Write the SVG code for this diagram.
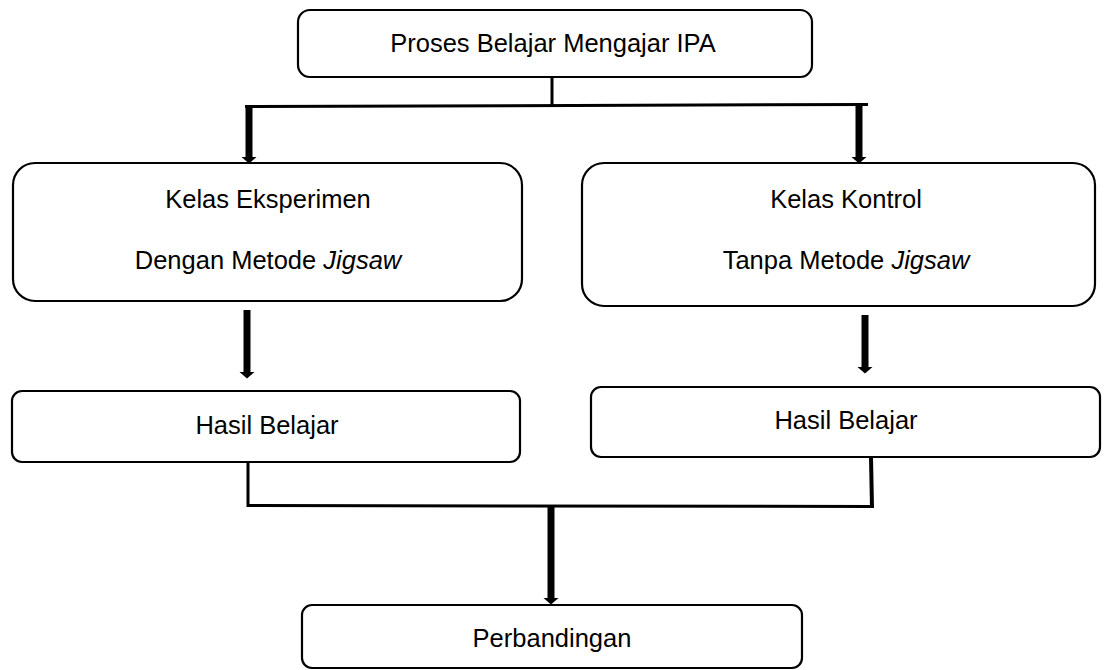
<svg xmlns="http://www.w3.org/2000/svg" width="1106" height="670" viewBox="0 0 1106 670">
<style>
.box{fill:#fff;stroke:#000;stroke-width:2.2}
.t{font-family:"Liberation Sans",Arial,sans-serif;font-size:25.5px;fill:#000;text-anchor:middle}
.ln{fill:none;stroke:#000;stroke-width:3}
.sh{fill:none;stroke:#000;stroke-width:7}
</style>
<defs>
<marker id="ah" markerUnits="userSpaceOnUse" markerWidth="8" markerHeight="16" refX="0" refY="8" orient="auto">
<path d="M0,0.5 L6.5,8 L0,15.5 Z" fill="#000"/>
</marker>
</defs>
<rect width="1106" height="670" fill="#fff"/>
<g id="connectors">
<path class="ln" d="M552,77 V106"/>
<path class="ln" d="M245,106.5 L868,104.5"/>
<path class="sh" d="M249,106 V157" marker-end="url(#ah)"/>
<path class="sh" d="M859,105 V157" marker-end="url(#ah)"/>
<path class="sh" d="M247,310 V372" marker-end="url(#ah)"/>
<path class="sh" d="M865,315 V367" marker-end="url(#ah)"/>
<path class="ln" d="M248,462 V505.5 L872,506.5"/>
<path d="M871,457 L872,508" stroke="#000" stroke-width="4" fill="none"/>
<path class="sh" d="M551,506 V598" marker-end="url(#ah)"/>
</g>
<g id="n1">
<rect class="box" x="298" y="10" width="514" height="67" rx="12"/>
<text class="t" x="553" y="52">Proses Belajar Mengajar IPA</text>
</g>
<g id="n2">
<rect class="box" x="13" y="163" width="509" height="138" rx="22"/>
<text class="t" x="268" y="208">Kelas Eksperimen</text>
<text class="t" x="268" y="269">Dengan Metode <tspan font-style="italic">Jigsaw</tspan></text>
</g>
<g id="n3">
<rect class="box" x="582" y="163" width="513" height="143" rx="22"/>
<text class="t" x="846" y="208">Kelas Kontrol</text>
<text class="t" x="846" y="269">Tanpa Metode <tspan font-style="italic">Jigsaw</tspan></text>
</g>
<g id="n4">
<rect class="box" x="12" y="391" width="508" height="71" rx="10"/>
<text class="t" x="267" y="434">Hasil Belajar</text>
</g>
<g id="n5">
<rect class="box" x="591" y="387" width="509" height="70" rx="10"/>
<text class="t" x="846" y="429">Hasil Belajar</text>
</g>
<g id="n6">
<rect class="box" x="302" y="605" width="500" height="63" rx="10"/>
<text class="t" x="552" y="647">Perbandingan</text>
</g>
</svg>
